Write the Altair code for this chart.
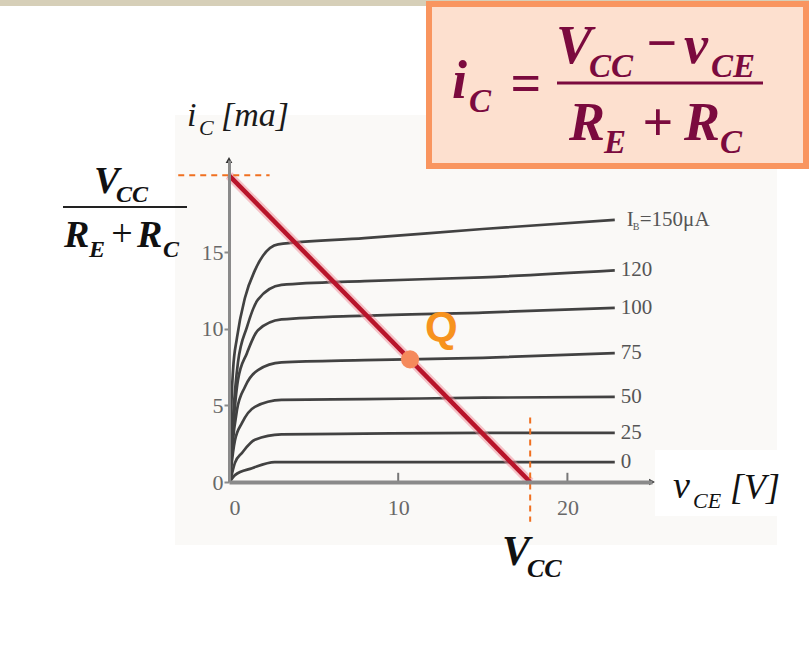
import altair as alt
import pandas as pd

# ---- load-line and operating point -------------------------------------
VCC = 17.8          # V, x-intercept of the load line
IC_SAT = 20.0       # mA, y-intercept = VCC / (RE + RC)
q_v = 10.7
q_i = 8.0

# ---- transistor output characteristics (v_CE in V, i_C in mA) ------------
ib_labels = ["0", "25", "50", "75", "100", "120", "150"]
curve_v = {
    "0":   [0.05, 0.12, 0.35, 1.36, 2.7, 6.0, 12.0, 18.0, 22.8],
    "25":  [0.05, 0.12, 0.35, 0.77, 1.53, 3.1, 8.0, 15.0, 22.8],
    "50":  [0.05, 0.12, 0.35, 0.77, 1.53, 3.1, 8.0, 15.0, 22.8],
    "75":  [0.05, 0.18, 0.47, 0.94, 1.71, 3.1, 8.0, 15.0, 22.8],
    "100": [0.05, 0.24, 0.53, 1.06, 1.71, 3.1, 8.0, 15.0, 22.8],
    "120": [0.05, 0.24, 0.53, 1.06, 1.71, 3.1, 8.0, 15.0, 22.8],
    "150": [0.05, 0.12, 0.24, 0.47, 0.94, 1.53, 2.9, 8.0, 15.0, 22.8],
}
curve_i = {
    "0":   [0.0, 0.13, 0.45, 0.9, 1.3, 1.3, 1.3, 1.3, 1.3],
    "25":  [0.0, 0.3, 1.25, 1.9, 2.75, 3.1, 3.15, 3.2, 3.2],
    "50":  [0.0, 0.8, 2.7, 3.85, 4.9, 5.35, 5.4, 5.5, 5.55],
    "75":  [0.0, 2.1, 4.7, 6.2, 7.3, 7.8, 7.95, 8.1, 8.4],
    "100": [0.0, 3.4, 6.65, 8.4, 9.9, 10.6, 10.85, 11.05, 11.35],
    "120": [0.0, 4.2, 7.8, 10.1, 11.9, 12.85, 13.1, 13.35, 13.8],
    "150": [0.0, 4.2, 7.3, 9.4, 12.0, 13.8, 15.5, 15.9, 16.5, 17.1],
}
x_ticks = [0, 10, 20]
y_ticks = [0, 5, 10, 15]
x_max, y_max = 25, 21

# ---- layout -------------------------------------------------------------
W, H = 423, 322
LEFT, TOP = 229, 160
PAD = {"left": LEFT, "top": TOP, "right": 809 - LEFT - W, "bottom": 656 - TOP - H}

curves = pd.DataFrame(
    [
        {"ib": ib, "k": k, "v": v, "i": i}
        for ib in ib_labels
        for k, (v, i) in enumerate(zip(curve_v[ib], curve_i[ib]))
    ]
)
ends = pd.DataFrame(
    [{"ib": ib, "v": curve_v[ib][-1], "i": curve_i[ib][-1]} for ib in ib_labels]
)

xs = alt.Scale(domain=[0, x_max], nice=False, zero=False)
ys = alt.Scale(domain=[0, y_max], nice=False, zero=False)

AX_FONT = "Liberation Serif"
TICK_COLOR = "#686868"

one = pd.DataFrame({"k": [0]})


def px(x):
    return alt.value(x - LEFT)


def py(y):
    return alt.value(y - TOP)


def rect(x1, y1, x2, y2, fill, stroke=None, sw=0):
    kw = {"fill": fill}
    if stroke:
        kw.update(stroke=stroke, strokeWidth=sw)
    return alt.Chart(one).mark_rect(**kw).encode(
        x=px(x1), x2=px(x2), y=py(y1), y2=py(y2)
    )


def hbar(x1, x2, y, color, sw):
    return alt.Chart(one).mark_rule(color=color, strokeWidth=sw).encode(
        x=px(x1), x2=px(x2), y=py(y)
    )


def txt(s, x, y, size, color="#111", style="italic", weight="bold",
        font="Liberation Serif", align="left"):
    return alt.Chart(one).mark_text(
        text=s, font=font, fontSize=size, fontStyle=style, fontWeight=weight,
        color=color, align=align, baseline="alphabetic",
    ).encode(x=px(x), y=py(y))


# ---- background pieces --------------------------------------------------
background = [
    rect(175, 115, 777, 545, "#faf9f7"),
    rect(655, 450, 792, 516, "#ffffff"),
    rect(0, 0, 809, 6, "#d6cfb8"),
]

# ---- axes (drawn by the scales, above the background) --------------------
axes = alt.Chart(one).mark_point(opacity=0).encode(
    x=alt.X("k:Q", scale=xs, title=None,
            axis=alt.Axis(values=x_ticks, grid=False, ticks=False, zindex=1,
                          domainColor="#8a8a8a", domainWidth=4,
                          labelFont=AX_FONT, labelFontSize=22,
                          labelColor=TICK_COLOR, labelPadding=15)),
    y=alt.Y("k:Q", scale=ys, title=None,
            axis=alt.Axis(values=y_ticks, grid=False, tickSize=5, tickWidth=2,
                          tickColor="#8a8a8a", zindex=1,
                          domainColor="#8a8a8a", domainWidth=3,
                          labelFont=AX_FONT, labelFontSize=22,
                          labelColor=TICK_COLOR, labelPadding=1)),
)

xtick_df = pd.DataFrame({"v": x_ticks[1:], "lo": [0.0] * 2, "hi": [0.6] * 2})
xtick_marks = alt.Chart(xtick_df).mark_rule(color="#777", strokeWidth=2).encode(
    x=alt.X("v:Q", scale=xs), y=alt.Y("lo:Q", scale=ys), y2="hi:Q"
)

arrow_df = pd.DataFrame({"v": [x_max, 0], "i": [0, y_max], "s": ["triangle-right", "triangle-up"]})
arrows = alt.Chart(arrow_df).mark_point(filled=True, size=45, color="#333", opacity=1).encode(
    x=alt.X("v:Q", scale=xs), y=alt.Y("i:Q", scale=ys),
    shape=alt.Shape("s:N", scale=None),
)

# ---- characteristic curves ---------------------------------------------
lines = alt.Chart(curves).mark_line(
    color="#424242", strokeWidth=2.7, interpolate="monotone"
).encode(
    x=alt.X("v:Q", scale=xs), y=alt.Y("i:Q", scale=ys),
    detail="ib:N", order="k:Q",
)

lbl = alt.Chart(ends[ends["ib"] != "150"]).mark_text(
    align="left", baseline="middle", dx=6, font=AX_FONT, fontSize=21,
    color="#555",
).encode(x=alt.X("v:Q", scale=xs), y=alt.Y("i:Q", scale=ys), text="ib:N")

top_end = ends[ends["ib"] == "150"]
lbl_i = alt.Chart(top_end).mark_text(
    text="I", align="left", baseline="middle", dx=12, font=AX_FONT,
    fontSize=21, color="#555",
).encode(x=alt.X("v:Q", scale=xs), y=alt.Y("i:Q", scale=ys))
lbl_b = alt.Chart(top_end).mark_text(
    text="B", align="left", baseline="middle", dx=18, dy=7, font=AX_FONT,
    fontSize=10, color="#555",
).encode(x=alt.X("v:Q", scale=xs), y=alt.Y("i:Q", scale=ys))
lbl_rest = alt.Chart(top_end).mark_text(
    align="left", baseline="middle", dx=25, font=AX_FONT, fontSize=21,
    color="#555",
).encode(x=alt.X("v:Q", scale=xs), y=alt.Y("i:Q", scale=ys),
         text=alt.Text("label:N")).transform_calculate(
    label="'=' + datum.ib + 'μA'"
)

# ---- load line, guides and Q point -------------------------------------
load_df = pd.DataFrame({"v": [0, VCC], "i": [IC_SAT, 0]})
load_halo = alt.Chart(load_df).mark_line(color="#f08c98", strokeWidth=9, opacity=0.5).encode(
    x=alt.X("v:Q", scale=xs), y=alt.Y("i:Q", scale=ys)
)
load_line = alt.Chart(load_df).mark_line(color="#b8142a", strokeWidth=4.5).encode(
    x=alt.X("v:Q", scale=xs), y=alt.Y("i:Q", scale=ys)
)

h_guide = pd.DataFrame({"v": [-3.0, 2.4], "i": [IC_SAT, IC_SAT]})
v_guide = pd.DataFrame({"v": [VCC, VCC], "i": [4.2, -2.6]})
guides = [
    alt.Chart(d).mark_line(color="#f07020", strokeWidth=2, strokeDash=[6, 5]).encode(
        x=alt.X("v:Q", scale=xs), y=alt.Y("i:Q", scale=ys)
    )
    for d in (h_guide, v_guide)
]

q_df = pd.DataFrame({"v": [q_v], "i": [q_i]})
q_dot = alt.Chart(q_df).mark_circle(size=330, color="#f58a5c", opacity=1).encode(
    x=alt.X("v:Q", scale=xs), y=alt.Y("i:Q", scale=ys)
)
q_lbl = alt.Chart(q_df).mark_text(
    text="Q", font="Liberation Sans", fontWeight="bold", fontSize=42,
    color="#f7931e", align="left", baseline="alphabetic", dx=15, dy=-18,
).encode(x=alt.X("v:Q", scale=xs), y=alt.Y("i:Q", scale=ys))

# ---- formula box: i_C = (V_CC - v_CE) / (R_E + R_C) ----------------------
MAROON = "#7b0a3e"
formula = [
    rect(429, 4, 806, 166, "#fde0cf", stroke="#f9955f", sw=6),
    txt("i", 452, 98, 54, MAROON),
    txt("C", 469, 112, 33, MAROON),
    txt("=", 526, 101, 54, MAROON, style="normal", align="center"),
    hbar(557, 763, 83, MAROON, 3),
    txt("V", 556, 63, 54, MAROON),
    txt("CC", 589, 77, 33, MAROON),
    txt("−", 662, 61, 54, MAROON, style="normal", align="center"),
    txt("v", 684, 63, 54, MAROON),
    txt("CE", 711, 77, 33, MAROON),
    txt("R", 569, 140, 54, MAROON),
    txt("E", 604, 153, 33, MAROON),
    txt("+", 658, 140, 54, MAROON, style="normal", align="center"),
    txt("R", 684, 140, 54, MAROON),
    txt("C", 720, 153, 33, MAROON),
]

# ---- axis titles and intercept labels ------------------------------------
annotations = [
    # i_C [ma]
    txt("i", 187, 126, 34, "#1a1a1a", weight="normal"),
    txt("C", 199, 135, 22, "#1a1a1a", weight="normal"),
    txt("[ma]", 221, 126, 34, "#1a1a1a", weight="normal"),
    # v_CE [V]
    txt("v", 673, 498, 38, "#111", weight="normal"),
    txt("CE", 693, 508, 22, "#111", weight="normal"),
    txt("[V]", 730, 499, 36, "#111", weight="normal"),
    # V_CC / (R_E + R_C)
    txt("V", 94, 193, 38),
    txt("CC", 116, 202, 24),
    hbar(63, 187, 207, "#222", 2),
    txt("R", 64, 247, 38),
    txt("E", 89, 257, 24),
    txt("+", 122, 246, 38, style="normal", weight="normal", align="center"),
    txt("R", 137, 247, 38),
    txt("C", 163, 257, 24),
    # V_CC under the x axis
    txt("V", 502, 565, 42),
    txt("CC", 527, 577, 26),
]

chart = alt.layer(
    *background,
    axes,
    xtick_marks,
    lines,
    arrows,
    lbl, lbl_i, lbl_b, lbl_rest,
    load_halo, load_line,
    *guides,
    q_dot, q_lbl,
    *formula,
    *annotations,
).properties(
    width=W, height=H,
    autosize=alt.AutoSizeParams(type="none"),
    padding=PAD,
    background="white",
).configure_view(stroke=None)

chart.save("out.html", embed_options={"renderer": "svg", "actions": False})
